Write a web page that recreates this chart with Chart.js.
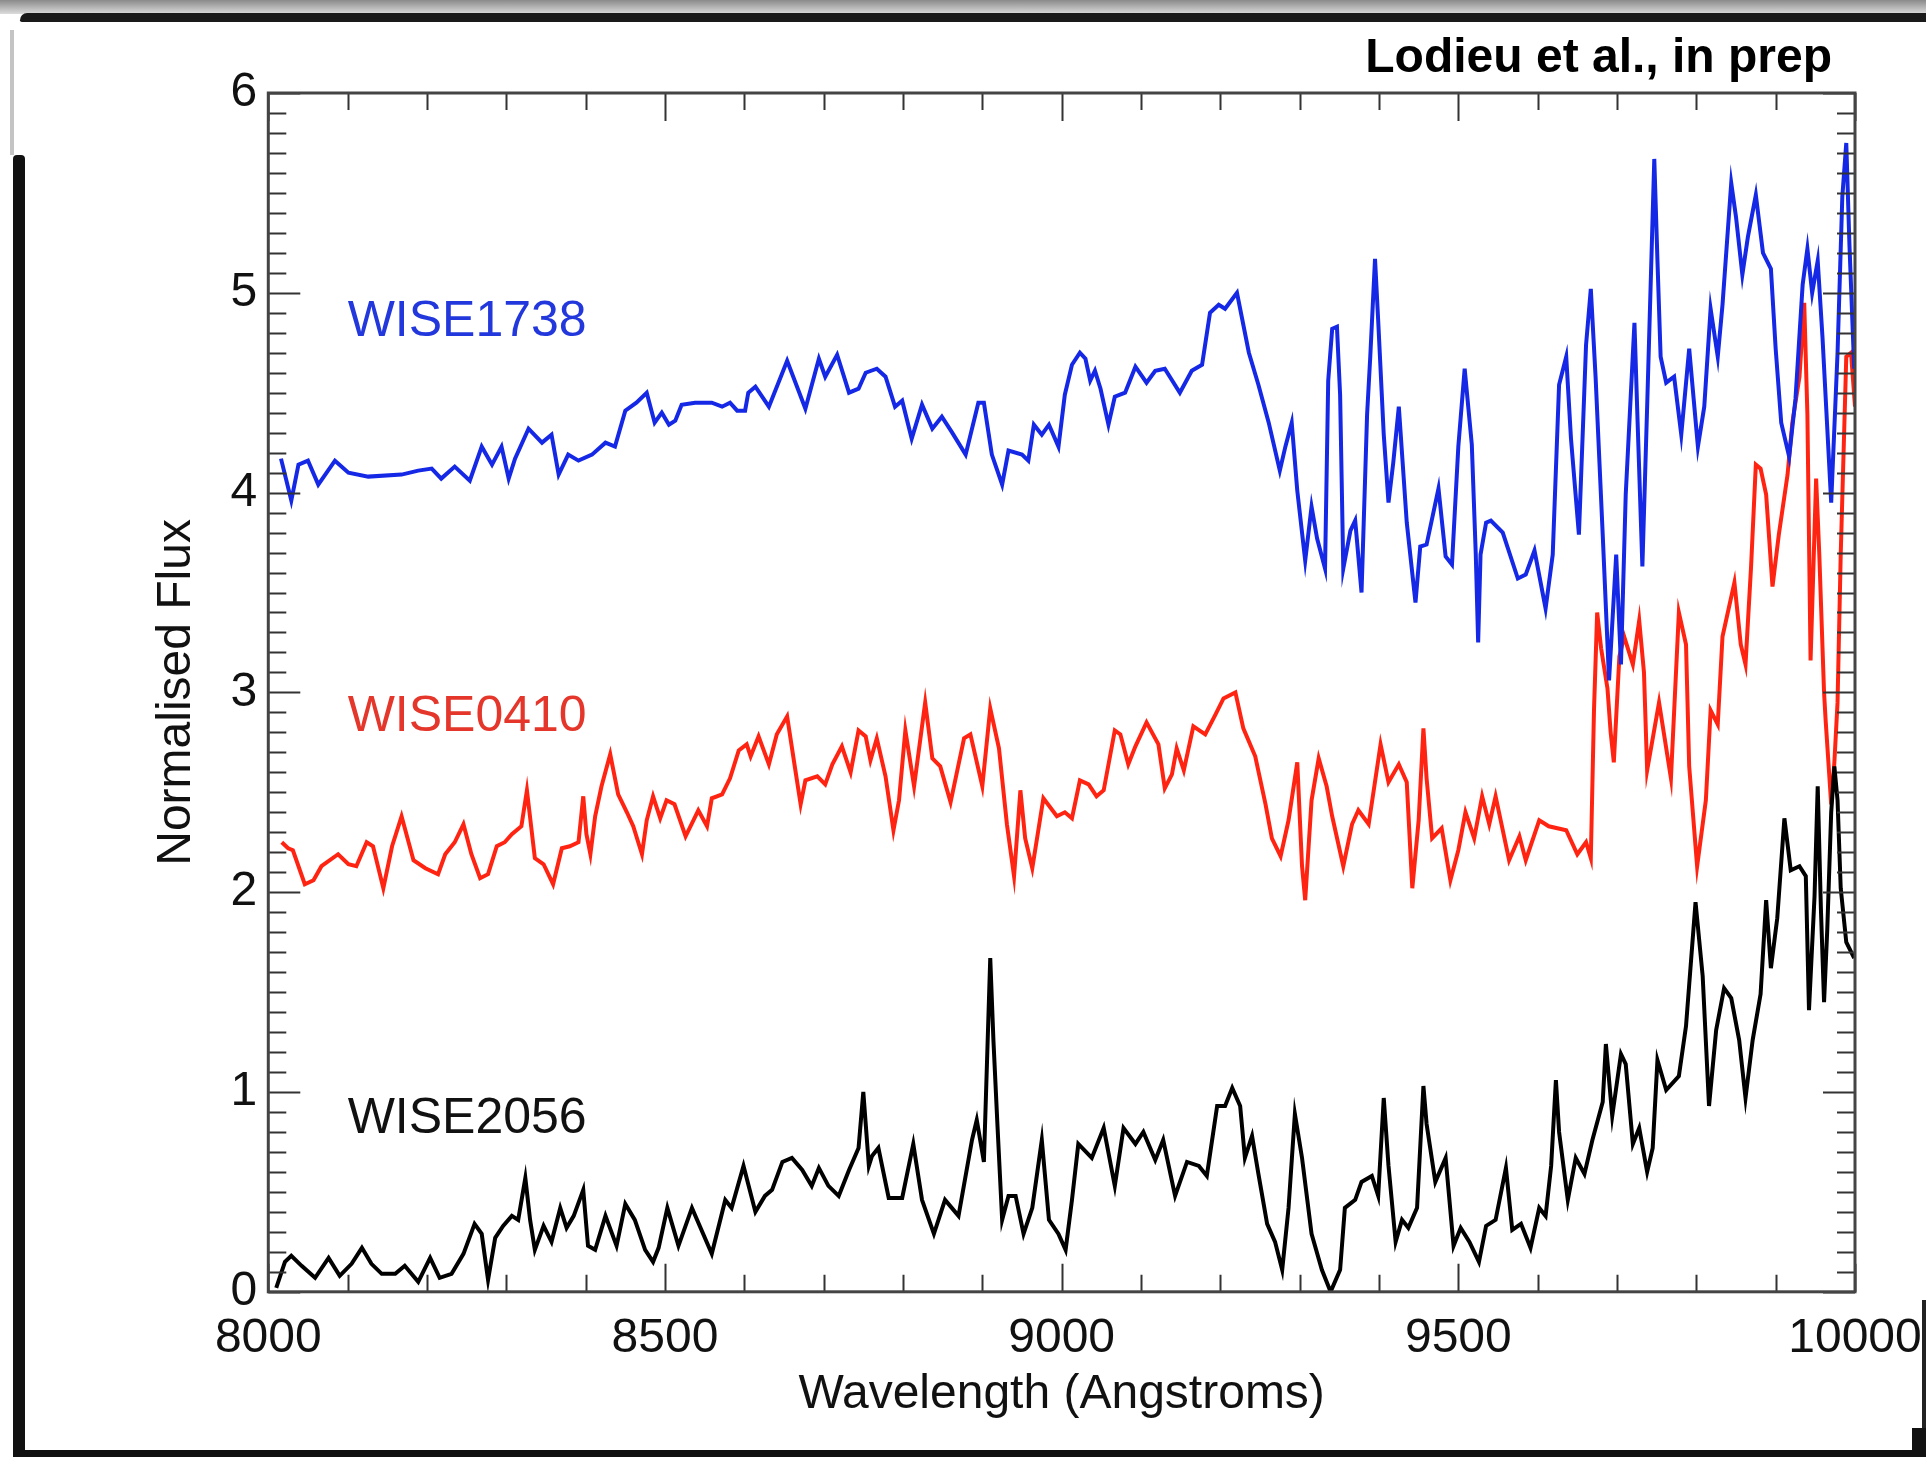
<!DOCTYPE html>
<html>
<head>
<meta charset="utf-8">
<script src="https://cdn.jsdelivr.net/npm/chart.js@4.4.1/dist/chart.umd.min.js"></script>
<style>
  html, body { margin: 0; padding: 0; background: #ffffff; overflow: hidden; }
  #wrap { position: relative; width: 1926px; height: 1457px; background: #ffffff; }
  #c { position: absolute; left: 0; top: 0; }
  .deco { position: absolute; }
  .lbl { position: absolute; font-family: "Liberation Sans", Arial, Helvetica, sans-serif; white-space: nowrap; transform: translateY(-50%); }
  #credit { position: absolute; right: 94px; top: 32px; font-family: "Liberation Sans", Arial, Helvetica, sans-serif; font-weight: bold; font-size: 48px; line-height: 48px; color: #000; white-space: nowrap; }
</style>
</head>
<body>
<div id="wrap">
  <div class="deco" style="left:0;top:0;width:1926px;height:14px;background:linear-gradient(#8a8a8a,#dcdcdc);"></div>
  <div class="deco" style="left:20px;top:13px;width:1906px;height:9px;background:#1a1a1a;border-radius:8px 0 0 2px;"></div>
  <div class="deco" style="left:10px;top:30px;width:4px;height:125px;background:#c4c4c4;"></div>
  <div class="deco" style="left:13px;top:155px;width:12px;height:1302px;background:#111;border-radius:4px 4px 0 0;"></div>
  <div class="deco" style="left:13px;top:1450px;width:1913px;height:7px;background:#111;"></div>
  <div class="deco" style="left:1922px;top:1300px;width:4px;height:157px;background:#222;"></div>
  <div class="deco" style="left:1912px;top:1428px;width:14px;height:29px;background:#111;"></div>
  <canvas id="c" width="1926" height="1457"></canvas>
  <div id="credit">Lodieu et al., in prep</div>
</div>
<script>
// ---------------- data ----------------
const xTicks = [8000, 8500, 9000, 9500, 10000];
const yTicks = [0, 1, 2, 3, 4, 5, 6];

const seriesNames = ["WISE1738", "WISE0410", "WISE2056"];
const seriesColors = ["#1428e6", "#ff2412", "#000000"];
const labelColors = ["#2238dc", "#e4362a", "#111111"];
const labelWave = [8100, 8100, 8100];
const labelFlux = [4.87, 2.89, 0.88];

const waveBlue = [8016,8029,8038,8050,8063,8084,8101,8126,8168,8189,8206,8218,8235,8254,8269,8282,8294,8303,8311,8328,8345,8357,8366,8378,8391,8408,8425,8437,8450,8464,8477,8487,8496,8505,8513,8521,8538,8559,8572,8582,8591,8601,8605,8614,8631,8654,8677,8694,8702,8717,8732,8744,8753,8767,8778,8790,8799,8811,8824,8837,8849,8862,8879,8895,8902,8912,8925,8933,8950,8958,8965,8975,8984,8996,9004,9013,9023,9030,9036,9042,9049,9059,9067,9080,9093,9107,9118,9130,9149,9164,9177,9187,9198,9206,9221,9236,9248,9261,9275,9282,9290,9297,9307,9315,9322,9332,9336,9341,9347,9351,9355,9364,9370,9378,9385,9389,9395,9399,9406,9412,9418,9425,9435,9446,9452,9460,9475,9484,9492,9500,9508,9517,9522,9525,9528,9535,9541,9556,9575,9585,9596,9610,9619,9627,9636,9642,9652,9661,9667,9673,9682,9690,9699,9705,9711,9722,9726,9732,9738,9747,9751,9755,9762,9772,9781,9791,9802,9810,9818,9827,9833,9844,9850,9858,9865,9875,9884,9894,9900,9907,9917,9925,9934,9940,9946,9953,9959,9970,9978,9984,9989,9993,9999];
const fluxBlue = [4.17,3.96,4.14,4.16,4.04,4.16,4.10,4.08,4.09,4.11,4.12,4.07,4.13,4.06,4.23,4.14,4.23,4.07,4.17,4.32,4.25,4.29,4.09,4.19,4.16,4.19,4.25,4.23,4.41,4.45,4.50,4.35,4.40,4.34,4.36,4.44,4.45,4.45,4.43,4.45,4.41,4.41,4.50,4.53,4.43,4.66,4.42,4.67,4.58,4.69,4.50,4.52,4.60,4.62,4.58,4.43,4.46,4.27,4.44,4.32,4.38,4.30,4.19,4.45,4.45,4.19,4.04,4.21,4.19,4.16,4.34,4.29,4.34,4.23,4.49,4.64,4.70,4.67,4.56,4.61,4.52,4.34,4.48,4.50,4.63,4.55,4.61,4.62,4.50,4.61,4.64,4.90,4.94,4.92,5.00,4.70,4.54,4.35,4.11,4.23,4.35,4.01,3.66,3.93,3.77,3.62,4.56,4.82,4.83,4.49,3.62,3.81,3.86,3.50,4.39,4.68,5.17,4.86,4.29,3.95,4.15,4.43,3.85,3.45,3.73,3.74,4.02,3.68,3.64,4.23,4.62,4.24,3.69,3.25,3.69,3.85,3.86,3.80,3.57,3.59,3.71,3.42,3.69,4.54,4.68,4.27,3.79,4.74,5.02,4.58,3.79,3.06,3.69,3.14,3.99,4.85,4.35,3.63,4.43,5.67,5.16,4.68,4.55,4.58,4.29,4.72,4.23,4.43,4.92,4.68,4.94,5.55,5.38,5.09,5.28,5.49,5.20,5.12,4.72,4.35,4.18,4.47,5.04,5.22,5.00,5.16,4.78,3.95,4.70,5.48,5.75,5.24,4.62];

const waveRed = [8017,8025,8031,8046,8057,8067,8088,8101,8111,8124,8132,8145,8156,8168,8183,8198,8214,8223,8235,8246,8256,8267,8277,8288,8298,8307,8319,8326,8336,8347,8359,8370,8380,8391,8397,8401,8406,8412,8420,8431,8441,8452,8460,8471,8477,8485,8494,8502,8512,8526,8542,8553,8559,8572,8582,8593,8603,8608,8618,8631,8641,8654,8664,8671,8677,8692,8702,8711,8723,8734,8744,8753,8759,8767,8778,8788,8795,8803,8814,8828,8837,8847,8860,8877,8885,8900,8910,8921,8931,8940,8948,8954,8963,8977,8994,9004,9013,9023,9034,9044,9053,9067,9074,9084,9093,9107,9122,9130,9139,9145,9154,9166,9181,9194,9204,9219,9229,9244,9257,9265,9276,9286,9297,9303,9307,9315,9324,9334,9341,9355,9366,9374,9387,9402,9412,9425,9435,9442,9450,9456,9460,9467,9479,9490,9500,9509,9520,9530,9539,9547,9564,9577,9585,9602,9614,9636,9650,9661,9667,9671,9675,9680,9688,9692,9696,9703,9709,9720,9728,9734,9738,9753,9768,9778,9787,9791,9801,9812,9818,9827,9833,9848,9856,9862,9869,9875,9881,9888,9896,9904,9915,9921,9930,9936,9940,9944,9951,9955,9961,9963,9970,9974,9978,9982,9989,9995,10000];
const fluxRed = [2.25,2.22,2.21,2.04,2.06,2.13,2.19,2.14,2.13,2.25,2.23,2.02,2.23,2.38,2.16,2.12,2.09,2.19,2.25,2.34,2.19,2.07,2.09,2.23,2.25,2.29,2.33,2.51,2.17,2.14,2.04,2.22,2.23,2.25,2.48,2.29,2.19,2.38,2.53,2.69,2.49,2.40,2.33,2.19,2.36,2.48,2.37,2.46,2.44,2.28,2.41,2.33,2.47,2.49,2.57,2.71,2.74,2.68,2.78,2.64,2.79,2.88,2.62,2.44,2.56,2.58,2.54,2.64,2.73,2.60,2.81,2.78,2.66,2.77,2.58,2.31,2.46,2.81,2.53,2.95,2.67,2.63,2.45,2.77,2.79,2.53,2.92,2.72,2.34,2.08,2.51,2.27,2.12,2.47,2.38,2.40,2.37,2.56,2.54,2.48,2.51,2.81,2.79,2.64,2.73,2.85,2.74,2.52,2.59,2.72,2.61,2.83,2.79,2.89,2.97,3.00,2.82,2.68,2.44,2.27,2.18,2.36,2.65,2.13,1.96,2.46,2.67,2.53,2.38,2.13,2.34,2.41,2.34,2.74,2.55,2.64,2.55,2.02,2.36,2.82,2.57,2.27,2.32,2.06,2.21,2.40,2.27,2.48,2.34,2.48,2.16,2.28,2.16,2.36,2.33,2.31,2.19,2.25,2.17,2.91,3.40,3.22,3.02,2.80,2.65,3.18,3.28,3.14,3.36,3.10,2.61,2.95,2.57,3.40,3.24,2.63,2.13,2.46,2.91,2.84,3.28,3.55,3.24,3.14,3.63,4.14,4.12,3.99,3.53,3.79,4.09,4.35,4.58,4.95,4.39,3.16,4.07,3.69,3.00,2.86,2.44,2.65,2.95,3.69,4.68,4.70,4.43];

const waveBlack = [8010,8021,8029,8042,8059,8076,8090,8105,8118,8130,8143,8160,8172,8189,8204,8216,8231,8246,8260,8269,8277,8286,8296,8307,8315,8324,8330,8336,8347,8357,8368,8376,8385,8397,8403,8412,8425,8439,8450,8462,8475,8485,8492,8503,8517,8534,8559,8576,8584,8599,8614,8626,8635,8648,8660,8673,8685,8694,8706,8719,8732,8744,8750,8757,8761,8769,8782,8799,8813,8824,8839,8853,8870,8887,8893,8902,8910,8914,8919,8925,8933,8942,8952,8963,8975,8984,8996,9005,9013,9021,9038,9053,9067,9078,9093,9103,9118,9128,9143,9158,9173,9183,9196,9206,9215,9225,9231,9240,9248,9259,9269,9278,9286,9294,9303,9315,9328,9339,9351,9357,9370,9378,9391,9399,9406,9412,9421,9429,9437,9448,9456,9460,9471,9484,9494,9503,9514,9526,9535,9547,9560,9568,9579,9591,9602,9610,9617,9623,9627,9638,9648,9659,9669,9682,9686,9694,9705,9711,9720,9728,9738,9745,9751,9762,9778,9787,9799,9808,9816,9825,9835,9844,9854,9862,9871,9881,9888,9894,9902,9911,9919,9930,9938,9942,9949,9953,9957,9961,9965,9970,9974,9978,9982,9989,9999];
const fluxBlack = [0.02,0.15,0.18,0.13,0.07,0.17,0.08,0.14,0.22,0.14,0.09,0.09,0.13,0.05,0.17,0.07,0.09,0.19,0.34,0.29,0.06,0.27,0.33,0.38,0.36,0.57,0.36,0.21,0.33,0.25,0.42,0.32,0.38,0.51,0.23,0.21,0.38,0.23,0.44,0.36,0.21,0.15,0.22,0.42,0.23,0.42,0.19,0.46,0.42,0.63,0.40,0.48,0.51,0.65,0.67,0.61,0.53,0.62,0.53,0.48,0.61,0.72,1.00,0.63,0.68,0.72,0.47,0.47,0.74,0.46,0.29,0.46,0.38,0.76,0.86,0.65,1.67,1.26,0.84,0.36,0.48,0.48,0.29,0.42,0.76,0.36,0.29,0.21,0.46,0.74,0.67,0.82,0.53,0.82,0.74,0.80,0.66,0.76,0.48,0.65,0.63,0.58,0.93,0.93,1.02,0.93,0.67,0.78,0.59,0.34,0.25,0.11,0.42,0.89,0.67,0.29,0.11,0.00,0.11,0.42,0.46,0.55,0.58,0.48,0.97,0.63,0.25,0.36,0.32,0.42,1.03,0.84,0.55,0.67,0.23,0.32,0.25,0.15,0.33,0.36,0.62,0.31,0.34,0.22,0.42,0.38,0.63,1.06,0.80,0.46,0.67,0.59,0.76,0.95,1.24,0.88,1.19,1.14,0.74,0.82,0.60,0.72,1.16,1.01,1.08,1.33,1.95,1.58,0.93,1.31,1.52,1.47,1.26,0.97,1.26,1.49,1.96,1.62,1.87,2.37,2.11,2.13,2.08,1.41,1.98,2.53,1.92,1.45,1.81,2.40,2.63,2.46,2.02,1.75,1.67];

// ---------------- chart ----------------
const toPts = (w, f) => w.map((x, i) => ({ x: x, y: f[i] }));
const FONT = "'Liberation Sans', Arial, Helvetica, sans-serif";

const frameTicks = {
  id: 'frameTicks',
  afterDraw(chart) {
    const { ctx, chartArea: { left, right, top, bottom }, scales: { x, y } } = chart;
    ctx.save();
    ctx.strokeStyle = '#333333';
    ctx.lineWidth = 2;
    ctx.beginPath();
    for (let w = x.min; w <= x.max; w += 100) {
      const px = Math.round(x.getPixelForValue(w)) + 0.5;
      const len = (w % 500 === 0) ? 28 : 17;
      ctx.moveTo(px, bottom); ctx.lineTo(px, bottom - len);
      ctx.moveTo(px, top); ctx.lineTo(px, top + len);
    }
    for (let i = 0; i <= 60; i++) {
      const py = Math.round(y.getPixelForValue(i / 10)) + 0.5;
      const len = (i % 10 === 0) ? 32 : 18;
      ctx.moveTo(left, py); ctx.lineTo(left + len, py);
      ctx.moveTo(right, py); ctx.lineTo(right - len, py);
    }
    ctx.stroke();
    ctx.strokeStyle = '#444444';
    ctx.lineWidth = 3;
    ctx.strokeRect(left, top, right - left, bottom - top);
    ctx.restore();
  }
};

const labelPlugin = {
  id: 'seriesLabels',
  afterDraw(chart) {
    const { x, y } = chart.scales;
    const wrap = document.getElementById('wrap');
    seriesNames.forEach((name, i) => {
      let el = document.getElementById('lbl' + i);
      if (!el) {
        el = document.createElement('div');
        el.id = 'lbl' + i;
        el.className = 'lbl';
        el.textContent = name;
        wrap.appendChild(el);
      }
      el.style.left = x.getPixelForValue(labelWave[i]) + 'px';
      el.style.top = y.getPixelForValue(labelFlux[i]) + 'px';
      el.style.color = labelColors[i];
      el.style.fontSize = '50px';
    });
  }
};

const noEdgePad = s => { s.paddingLeft = 0; s.paddingRight = 0; s.paddingTop = 0; s.paddingBottom = 0; };

new Chart(document.getElementById('c'), {
  type: 'line',
  data: {
    datasets: [
      { label: seriesNames[2], data: toPts(waveBlack, fluxBlack), borderColor: seriesColors[2], order: 0 },
      { label: seriesNames[0], data: toPts(waveBlue, fluxBlue), borderColor: seriesColors[0], order: 1 },
      { label: seriesNames[1], data: toPts(waveRed, fluxRed), borderColor: seriesColors[1], order: 2 }
    ]
  },
  options: {
    responsive: false,
    animation: false,
    devicePixelRatio: 1,
    layout: { padding: { left: 148, right: 71, top: 93, bottom: 33 } },
    elements: {
      point: { radius: 0 },
      line: { borderWidth: 4, tension: 0, borderJoinStyle: 'miter', borderCapStyle: 'butt' }
    },
    plugins: { legend: { display: false }, tooltip: { enabled: false }, title: { display: false } },
    scales: {
      x: {
        type: 'linear', min: 8000, max: 10000,
        afterBuildTicks: s => { s.ticks = xTicks.map(v => ({ value: v })); },
        afterFit: noEdgePad,
        ticks: { font: { family: FONT, size: 48 }, color: '#111', padding: 18, maxRotation: 0, autoSkip: false, callback: v => String(v) },
        grid: { display: false, drawTicks: false },
        border: { display: false },
        title: { display: true, text: 'Wavelength (Angstroms)', font: { family: FONT, size: 48 }, color: '#111', padding: { top: -19, bottom: 0 } }
      },
      y: {
        type: 'linear', min: 0, max: 6,
        afterBuildTicks: s => { s.ticks = yTicks.map(v => ({ value: v })); },
        afterFit: noEdgePad,
        ticks: { font: { family: FONT, size: 48 }, color: '#111', padding: 11, callback: v => String(v) },
        grid: { display: false, drawTicks: false },
        border: { display: false },
        title: { display: true, text: 'Normalised Flux', font: { family: FONT, size: 48 }, color: '#111', padding: { top: 0, bottom: 14 } }
      }
    }
  },
  plugins: [frameTicks, labelPlugin]
});
</script>
</body>
</html>
